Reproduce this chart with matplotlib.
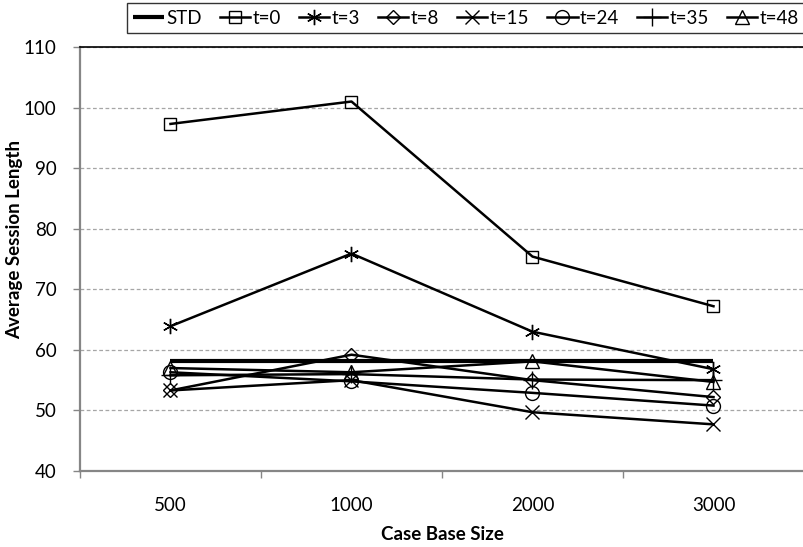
import matplotlib
matplotlib.use("Agg")
import matplotlib.pyplot as plt
import numpy as np

plt.rcParams['font.family'] = ['Lato', 'DejaVu Sans']

# Case base sizes (category axis)
categories = ["500", "1000", "2000", "3000"]

# Average session length per configuration
std_vals = [58.2, 58.2, 58.2, 58.2]
t0_vals = [97.3, 101.0, 75.4, 67.2]
t3_vals = [63.9, 75.9, 63.0, 56.8]
t8_vals = [53.3, 59.2, 55.0, 52.2]
t15_vals = [53.3, 55.0, 49.7, 47.7]
t24_vals = [56.3, 54.8, 52.9, 50.8]
t35_vals = [55.8, 56.0, 55.1, 55.0]
t48_vals = [57.0, 56.3, 58.1, 54.7]

series = [
    ("STD", std_vals, None),
    ("t=0", t0_vals, "s"),
    ("t=3", t3_vals, (6, 2, 0)),
    ("t=8", t8_vals, "D"),
    ("t=15", t15_vals, "x"),
    ("t=24", t24_vals, "o"),
    ("t=35", t35_vals, "+"),
    ("t=48", t48_vals, "^"),
]

fig = plt.figure(figsize=(8.04, 5.47), dpi=100)
ax = fig.add_axes([80 / 804, 1 - 471 / 547, 724 / 804, (471 - 47) / 547])

x = np.arange(len(categories))
sizes = {"s": 9, (6, 2, 0): 11, "D": 7, "x": 10, "o": 10, "+": 13, "^": 10}

for label, vals, mk in series:
    if mk is None:
        ax.plot(x, vals, color="black", lw=3.0, label=label, zorder=3,
                solid_capstyle="butt")
    else:
        ax.plot(x, vals, color="black", lw=1.8, marker=mk,
                markersize=sizes[mk], markerfacecolor="none",
                markeredgecolor="black", markeredgewidth=1.0,
                label=label, zorder=4)

ax.set_xlim(-0.5, 3.5)
ax.set_ylim(40, 110)
ax.set_yticks(np.arange(40, 111, 10))

# Category labels without ticks; tick marks sit between categories
ax.set_xticks(x)
ax.set_xticklabels(categories)
ax.tick_params(axis="x", which="major", length=0, pad=19, labelsize=13.5)
ax.set_xticks(np.arange(-0.5, 3.6, 1.0), minor=True)
ax.tick_params(axis="x", which="minor", length=5, color="#868686", width=1)
ax.tick_params(axis="y", length=5, color="#868686", width=1, pad=12,
               labelsize=13.5)

ax.yaxis.grid(True, color="#a6a6a6", lw=0.9, linestyle=(0, (3, 2)))
ax.set_axisbelow(True)

for side in ("left", "bottom"):
    ax.spines[side].set_color("#868686")
    ax.spines[side].set_linewidth(1.6)
ax.spines["right"].set_visible(False)
ax.spines["top"].set_color("black")
ax.spines["top"].set_linewidth(1.2)

ax.set_ylabel("Average Session Length", fontsize=13.5, fontweight="bold")
ax.yaxis.set_label_coords(-0.078, 0.545)
ax.set_xlabel("Case Base Size", fontsize=13.5, fontweight="bold")
ax.xaxis.set_label_coords(0.5, -0.13)

leg = fig.legend(loc="center", bbox_to_anchor=(466 / 804, 1 - 18 / 547),
                 ncol=8, frameon=True, fontsize=13.5, handlelength=1.65,
                 handletextpad=0.1, columnspacing=0.95, borderpad=0.35,
                 fancybox=False, edgecolor="black")
leg.get_frame().set_linewidth(1.0)

fig.savefig("out.png", dpi=100)
